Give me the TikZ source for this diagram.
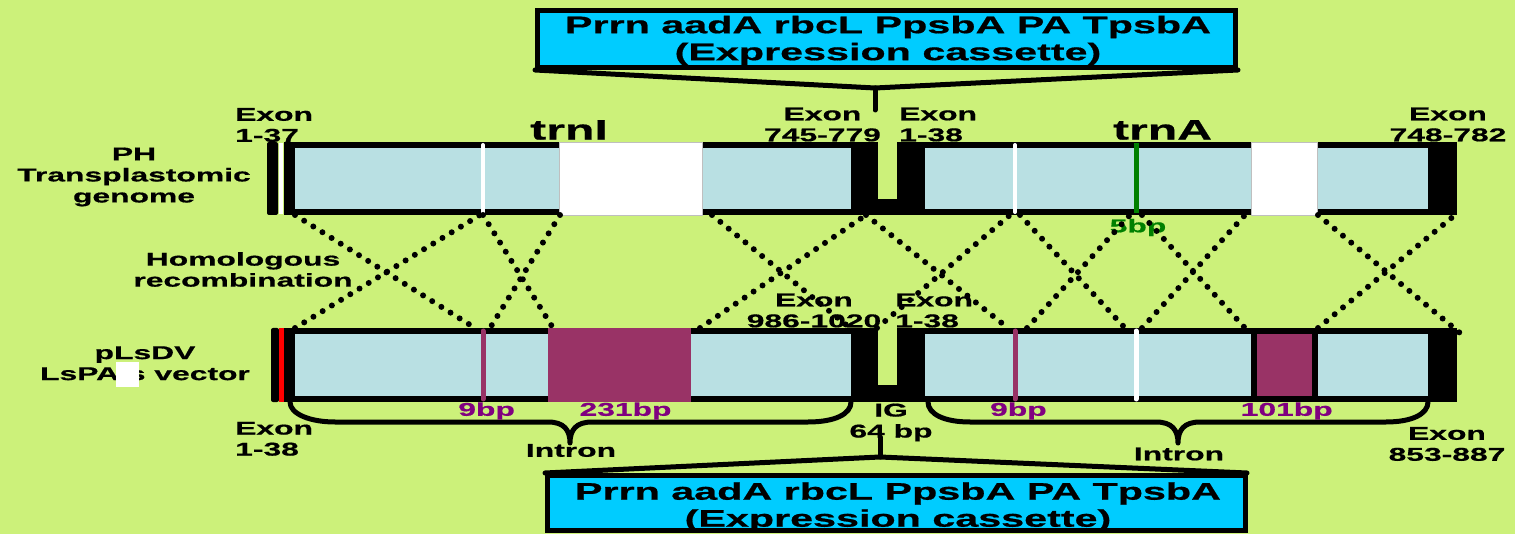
\documentclass[tikz,border=0pt]{standalone}
\usepackage{fontspec}
\setmainfont{Liberation Sans}[FakeStretch=1.72, BoldFeatures={FakeBold=0.7}]
\definecolor{bg}{RGB}{204,241,122}
\definecolor{lb}{RGB}{185,224,227}
\definecolor{mag}{RGB}{153,51,102}
\definecolor{bptext}{RGB}{128,0,128}
\definecolor{grn}{RGB}{0,128,0}
\definecolor{cas}{RGB}{0,204,255}
\tikzset{
  lbl/.style={font=\bfseries\fontsize{18.5}{21}\selectfont, inner sep=0pt, align=center},
  bplbl/.style={lbl, text=bptext},
  bigl/.style={font=\bfseries\fontsize{28}{30}\selectfont, inner sep=0pt},
  cast/.style={font=\bfseries\fontsize{24}{27}\selectfont, inner sep=0pt, align=center},
  dots/.style={line width=6pt, line cap=round, dash pattern=on 0pt off 10.8pt},
  casbox/.style={fill=cas, draw=black, line width=5pt},
  thick5/.style={line width=5pt, line cap=round, line join=round},
  brace/.style={line width=5pt, line cap=round, line join=round},
}
\begin{document}
\begin{tikzpicture}[x=1pt,y=-1pt]
\useasboundingbox (0,0) rectangle (1515,534);
\fill[bg] (0,0) rectangle (1515,534);

% ---------- top row: PH transplastomic genome ----------
\fill[rounded corners=2pt] (267,142) rectangle (278,215);
\fill[white] (279,143) rectangle (283,214);
\fill (284,142) rectangle (878,215);
\fill[lb] (295,148) rectangle (851,209);
\fill (878,199) rectangle (897,215);
\fill (897,142) rectangle (1457,215);
\fill[lb] (925,148) rectangle (1428,209);
\draw[white, line width=4pt, line cap=round] (483,145) -- (483,212);
\draw[white, line width=4pt, line cap=round] (1015,145) -- (1015,212);
\draw[grn, line width=5pt] (1136,143) -- (1136,213);
\filldraw[fill=white, draw=gray!50, line width=0.8pt] (559,142.5) rectangle (702,215);
\filldraw[fill=white, draw=gray!50, line width=0.8pt] (1251,142.5) rectangle (1317,215);

% ---------- bottom row: vector ----------
\fill[rounded corners=2pt] (271,328) rectangle (279,402);
\fill[red] (279,328) rectangle (284,402);
\fill (284,328) rectangle (878,402);
\fill[lb] (295,334) rectangle (851,396);
\fill (878,385) rectangle (897,402);
\fill (897,328) rectangle (1457,402);
\fill[lb] (925,334) rectangle (1428,396);
\draw[mag, line width=5pt, line cap=round] (483,331) -- (483,399);
\fill[mag] (548,328) rectangle (691,402);
\draw[mag, line width=5pt, line cap=round] (1015,331) -- (1015,399);
\draw[white, line width=5pt, line cap=round] (1136,331) -- (1136,399);
\fill (1251,328) rectangle (1318,402);
\fill[mag] (1257,334) rectangle (1312,396);

% ---------- braces ----------
\draw[brace] (290,402) .. controls (290,414) and (310,422) .. (335,422) -- (548,422)
  .. controls (564,422) and (570,430) .. (570,443)
  .. controls (570,430) and (576,422) .. (592,422) -- (808,422)
  .. controls (835,422) and (851,414) .. (851,402);
\draw[brace] (928,402) .. controls (928,414) and (944,422) .. (970,422) -- (1156,422)
  .. controls (1172,422) and (1178,430) .. (1178,443)
  .. controls (1178,430) and (1184,422) .. (1200,422) -- (1386,422)
  .. controls (1412,422) and (1428,414) .. (1428,402);

% ---------- cassettes ----------
\draw[thick5] (535,70) -- (875,88) -- (1238,70);
\draw[thick5] (875,88) -- (875,110);
\draw[casbox] (537.5,10.5) rectangle (1235.5,67.5);
\node[cast] (casTop) at (888,40.5) {Prrn aadA rbcL PpsbA PA TpsbA\\(Expression cassette)};

\draw[thick5] (880,437) -- (880,457);
\draw[thick5] (545,473) -- (880,457) -- (1247,473);
\draw[casbox] (547.5,475.5) rectangle (1245.5,530.5);
\node[cast] (casBot) at (898,507) {Prrn aadA rbcL PpsbA PA TpsbA\\(Expression cassette)};

% ---------- labels ----------
\node[lbl, align=left, anchor=west] (ex137) at (235,125) {Exon\\1-37};
\node[lbl] (ex745) at (822.5,124.5) {Exon\\745-779};
\node[lbl, align=left, anchor=west] (ex138t) at (899,124.5) {Exon\\1-38};
\node[lbl] (ex748) at (1448,124.5) {Exon\\748-782};
\node[bigl] (trnI) at (569,130) {trnI};
\node[bigl] (trnA) at (1162.5,130) {trnA};
\node[lbl] (ph) at (134,177) {PH\\Transplastomic\\genome};
\node[lbl] (hom) at (243,269.5) {Homologous\\recombination};
\node[lbl] (vec) at (145,363.3) {pLsDV\\LsPA\phantom{i}s vector};
\fill[white] (116,362) rectangle (139,387);
\node[lbl, text=grn] (bp5) at (1138,227.5) {5bp};
\node[bplbl] (bp9a) at (486.6,411) {9bp};
\node[bplbl] (bp231) at (625.5,411) {231bp};
\node[bplbl] (bp9b) at (1018.4,411) {9bp};
\node[bplbl] (bp101) at (1286.7,411) {101bp};
\node[lbl] (ig) at (891,422.5) {IG\\64 bp};
\node[lbl] (ex986) at (814,310.5) {Exon\\986-1020};
\node[lbl, align=left, anchor=west] (ex138b) at (895,310.5) {Exon\\1-38};
\node[lbl, align=left, anchor=west] (ex138c) at (235,438.8) {Exon\\1-38};
\node[lbl] (intrL) at (571,450.5) {Intron};
\node[lbl] (intrR) at (1179,454) {Intron};
\node[lbl] (ex853) at (1447,444) {Exon\\853-887};

% ---------- homologous recombination crossings ----------
\draw[dots] (295,215) -- (475,328);
\draw[dots] (295,328) -- (480,215);
\draw[dots] (483,215) -- (553,328);
\draw[dots] (560,215) -- (490,328);
\draw[dots] (712,215) -- (850,328);
\draw[dots] (700,328) -- (866,215);
\draw[dots] (866,215) -- (1008,328);
\draw[dots] (877,328) -- (1010,215);
\draw[dots] (1020,215) -- (1125,328);
\draw[dots] (1027,328) -- (1130,215);
\draw[dots] (1142,215) -- (1245,328);
\draw[dots] (1142,328) -- (1245,215);
\draw[dots] (1318,215) -- (1460,333);
\draw[dots] (1318,328) -- (1455,215);
\end{tikzpicture}
\end{document}
